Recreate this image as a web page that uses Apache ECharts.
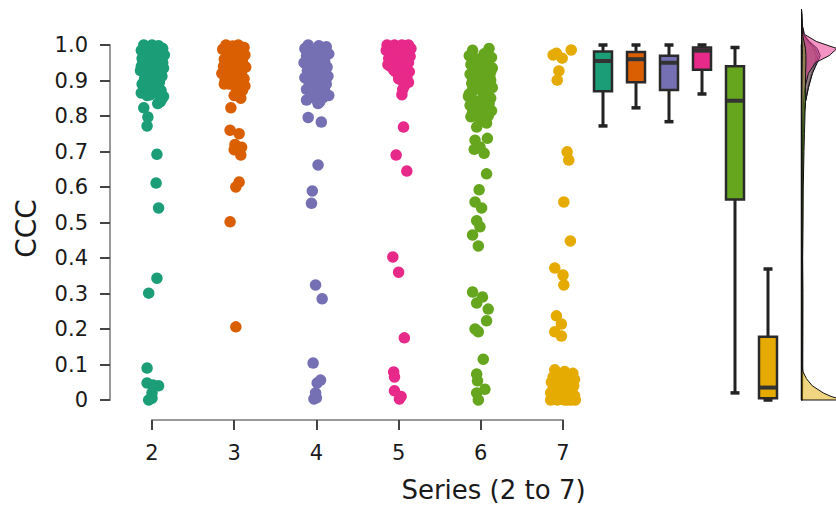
<!DOCTYPE html>
<html>
<head>
<meta charset="utf-8">
<script src="https://cdn.jsdelivr.net/npm/echarts@6/dist/echarts.min.js"></script>
<style>
html,body{margin:0;padding:0;background:#fff;}
#chart{width:836px;height:510px;}
</style>
</head>
<body>
<div id="chart"></div>
<script>
// ---------------- DATA ----------------
const categories = [2, 3, 4, 5, 6, 7];
const xTitle = 'Series (2 to 7)';
const yTitle = 'CCC';
const colors = ['#1b9e77', '#d95f02', '#7570b3', '#e7298a', '#66a61e', '#e6ab02'];

// points: [horizontal jitter around the category, CCC value]
const s2 = [[-0.1,1.0],[0.0,1.0],[0.08,0.998],[-0.05,0.995],[0.12,0.99],[-0.13,0.985],[0.04,0.985],[0.1,0.978],[-0.08,0.975],[0.15,0.972],[0.0,0.968],[-0.12,0.962],[0.07,0.96],[-0.03,0.955],[0.13,0.95],[-0.1,0.945],[0.03,0.94],[-0.06,0.935],[0.1,0.93],[-0.14,0.928],[0.05,0.922],[-0.02,0.918],[0.12,0.912],[-0.09,0.905],[0.02,0.9],[0.09,0.895],[-0.12,0.89],[-0.04,0.885],[0.06,0.88],[-0.1,0.875],[0.11,0.872],[0.0,0.868],[-0.13,0.865],[0.08,0.862],[-0.06,0.858],[0.14,0.855],[-0.02,0.86],[0.12,0.848],[0.1,0.84],[0.07,0.835],[-0.11,0.95],[0.06,0.975],[-0.07,0.99],[0.14,0.935],
  [-0.04,0.965],[0.05,0.95],[-0.08,0.92],[0.08,0.91],[-0.04,0.9],[0.04,0.89],[-0.13,0.94],[0.11,0.96],[-0.02,0.98],[0.04,0.87],[-0.09,0.96],[0.13,0.99],
  [-0.1,0.823],[-0.05,0.797],[-0.06,0.772],[0.06,0.692],[0.05,0.611],[0.08,0.541],[0.06,0.343],[-0.04,0.301],[-0.06,0.09],[-0.06,0.048],[0.01,0.042],[0.08,0.04],[0.0,0.02],[-0.04,0.0],[0.0,0.005]];
const s3 = [[-0.1,1.0],[0.05,1.0],[-0.02,0.997],[0.12,0.993],[-0.14,0.988],[0.08,0.985],[0.0,0.98],[-0.08,0.975],[0.13,0.972],[0.03,0.965],[-0.12,0.96],[0.1,0.955],[-0.05,0.95],[0.05,0.945],[-0.13,0.94],[0.14,0.938],[0.0,0.935],[-0.08,0.93],[0.09,0.925],[-0.15,0.92],[0.04,0.915],[-0.03,0.91],[0.12,0.905],[-0.11,0.9],[0.07,0.895],[-0.06,0.89],[0.13,0.885],[0.02,0.88],[-0.12,0.89],[0.1,0.872],[0.05,0.865],[0.0,0.858],[0.08,0.85],[-0.04,0.97],[0.1,0.99],
  [-0.06,0.96],[0.07,0.96],[-0.1,0.915],[0.08,0.94],[-0.03,0.925],[0.02,0.895],[-0.08,0.985],[0.04,0.99],
  [-0.04,0.823],[-0.05,0.76],[0.06,0.75],[0.01,0.72],[0.09,0.712],[0.0,0.705],[0.08,0.69],[0.06,0.614],[0.02,0.6],[-0.05,0.502],[0.02,0.206]];
const s4 = [[-0.1,1.0],[0.03,0.998],[0.12,0.995],[-0.14,0.99],[0.0,0.988],[0.08,0.982],[-0.06,0.978],[0.15,0.975],[-0.12,0.97],[0.04,0.965],[-0.02,0.96],[0.1,0.955],[-0.15,0.95],[0.06,0.948],[-0.07,0.942],[0.13,0.938],[0.0,0.932],[-0.11,0.928],[0.09,0.922],[-0.04,0.918],[0.14,0.912],[-0.14,0.908],[0.02,0.905],[0.07,0.898],[-0.09,0.895],[0.12,0.89],[-0.03,0.885],[0.05,0.88],[-0.12,0.875],[0.1,0.87],[0.0,0.865],[-0.07,0.86],[0.15,0.858],[0.08,0.852],[-0.12,0.845],[0.04,0.84],[-0.02,0.85],[0.02,0.835],[0.06,0.97],[-0.08,0.955],[0.11,0.935],
  [-0.04,0.945],[0.04,0.925],[-0.08,0.91],[0.06,0.91],[-0.06,0.88],[0.09,0.885],[-0.02,0.97],[0.09,0.96],[-0.1,0.985],[0.05,0.86],
  [-0.1,0.796],[0.06,0.783],[0.02,0.662],[-0.05,0.589],[-0.06,0.554],[-0.01,0.324],[0.07,0.285],[-0.04,0.104],[0.05,0.056],[0.01,0.048],[-0.01,0.02],[-0.03,0.003],[0.0,0.006]];
const s5 = [[-0.14,1.0],[-0.05,1.0],[0.04,1.0],[0.12,1.0],[-0.1,0.995],[0.0,0.995],[0.08,0.993],[0.15,0.99],[-0.15,0.985],[-0.03,0.985],[0.06,0.982],[0.11,0.978],[-0.08,0.975],[0.02,0.972],[0.14,0.968],[-0.12,0.962],[0.07,0.96],[-0.02,0.955],[0.12,0.95],[-0.13,0.945],[0.0,0.94],[0.08,0.935],[-0.06,0.93],[0.13,0.925],[0.03,0.92],[-0.1,0.94],[0.1,0.91],[0.04,0.9],[0.12,0.895],[0.07,0.885],[0.05,0.875],[0.04,0.86],[-0.04,0.99],[0.1,0.985],
  [-0.07,0.965],[0.04,0.958],[-0.04,0.925],[0.07,0.915],[0.0,0.905],[-0.02,0.975],
  [0.06,0.769],[-0.03,0.69],[0.1,0.645],[-0.07,0.403],[0.0,0.36],[0.07,0.175],[-0.06,0.079],[-0.05,0.065],[-0.05,0.026],[0.01,0.003],[0.03,0.01]];
const s6 = [[-0.1,0.985],[0.1,0.99],[0.04,0.975],[-0.14,0.97],[0.13,0.965],[-0.04,0.96],[0.07,0.952],[-0.12,0.945],[0.0,0.94],[0.14,0.935],[-0.08,0.93],[0.06,0.925],[-0.13,0.918],[0.11,0.912],[-0.02,0.905],[0.08,0.898],[-0.11,0.892],[0.02,0.886],[0.14,0.88],[-0.06,0.875],[0.09,0.868],[-0.14,0.862],[0.03,0.858],[0.12,0.85],[-0.09,0.845],[0.0,0.84],[0.1,0.835],[-0.13,0.83],[0.06,0.825],[-0.04,0.82],[0.13,0.815],[-0.1,0.81],[0.03,0.805],[0.09,0.8],[-0.12,0.798],[0.0,0.792],[-0.06,0.95],[0.12,0.9],[-0.15,0.855],[0.05,0.87],
  [-0.08,0.96],[0.02,0.96],[0.1,0.94],[-0.04,0.92],[0.04,0.91],[-0.1,0.905],[0.12,0.925],[-0.06,0.895],[0.05,0.88],[-0.1,0.875],[0.1,0.855],[-0.04,0.84],[0.05,0.845],[-0.1,0.825],[0.1,0.82],[-0.02,0.805],[0.07,0.81],[-0.07,0.8],
  [-0.05,0.769],[0.07,0.78],[-0.07,0.732],[0.08,0.737],[-0.08,0.706],[0.04,0.695],[-0.01,0.713],[0.07,0.637],[-0.02,0.592],[-0.07,0.558],[0.01,0.541],[-0.05,0.505],[-0.01,0.488],[-0.1,0.465],[-0.03,0.434],
  [-0.1,0.304],[0.02,0.29],[-0.05,0.273],[0.09,0.256],[0.07,0.223],[-0.07,0.2],[-0.03,0.192],[0.03,0.115],[-0.05,0.073],[-0.04,0.054],[0.05,0.03],[-0.05,0.02],[-0.03,0.0]];
const s7 = [[-0.08,0.977],[0.1,0.986],[-0.01,0.963],[-0.05,0.927],[-0.07,0.901],[-0.12,0.972],[0.05,0.699],[0.07,0.676],[0.01,0.558],[0.09,0.448],
  [-0.1,0.372],[0.0,0.352],[0.01,0.324],[-0.08,0.237],[-0.02,0.214],[-0.1,0.192],[-0.02,0.18],
  [-0.1,0.085],[0.02,0.08],[0.12,0.075],[-0.12,0.065],[0.06,0.068],[-0.03,0.06],[0.14,0.058],[-0.14,0.05],[0.0,0.052],[0.09,0.048],[-0.07,0.042],[0.13,0.04],[0.04,0.035],[-0.12,0.032],[-0.02,0.028],[0.1,0.025],[-0.15,0.02],[0.06,0.02],[-0.06,0.015],[0.14,0.012],[0.0,0.01],[-0.11,0.006],[0.08,0.005],[-0.03,0.003],[0.12,0.002],[-0.15,0.0],[-0.07,0.0],[0.02,0.0],[0.1,0.0],[0.15,0.0],[-0.09,0.022],[0.05,0.01],[-0.13,0.01],[0.11,0.032],
  [-0.05,0.07],[0.07,0.06],[-0.09,0.055],[0.03,0.045],[-0.04,0.035],[0.08,0.03],[-0.1,0.04],[0.02,0.015],[-0.02,0.005],[0.06,0.0]];
const seriesPoints = [s2, s3, s4, s5, s6, s7];

// box statistics: [min, q1, median, q3, max]
const boxStats = [
  [0.772, 0.870, 0.955, 0.982, 1.000],
  [0.823, 0.895, 0.960, 0.980, 1.000],
  [0.784, 0.873, 0.950, 0.970, 1.000],
  [0.862, 0.930, 0.984, 0.993, 1.000],
  [0.020, 0.565, 0.843, 0.940, 0.993],
  [0.000, 0.005, 0.035, 0.178, 0.369]
];

// density outlines: CCC levels and width
const densY = [1.10,1.06,1.03,1.01,0.99,0.97,0.95,0.92,0.88,0.84,0.80,0.75,0.70,0.60,0.50,0.40,0.30,0.20,0.10,0.08,0.06,0.04,0.02,0.01,0.0];
const dens2 = [0,0.5,2,6,12,15,14,10,6,4,2.5,1.5,1,0.8,0.6,0.5,0.6,0.4,0.5,0.6,0.7,0.8,0.7,0.6,0.5];
const dens3 = [0,0.5,2,7,14,17,15,11,7,4,2.5,2,1.8,1,0.6,0.3,0.3,0.4,0.2,0.2,0.2,0.2,0.2,0.1,0.1];
const dens4 = [0,0.5,2,8,16,19,16,11,7,4,2.5,1.5,1.2,1,0.6,0.5,0.6,0.4,0.5,0.6,0.7,0.8,0.7,0.6,0.6];
const dens5 = [0,0.5,3,15,36,28,14,7,3.5,2,1.5,1.2,1,0.6,0.5,0.6,0.4,0.3,0.5,0.6,0.7,0.7,0.6,0.5,0.5];
const dens6 = [0,0.3,1,2.5,4,4.5,4.5,4.2,4,3.8,3.5,3,2.5,1.8,1.6,1.2,1.5,1.4,1.3,1.3,1.2,1.2,1.1,1,1];
const dens7 = [0,0.1,0.3,0.6,0.8,0.8,0.6,0.4,0.2,0.1,0.1,0.2,0.4,0.4,0.3,0.4,0.6,0.8,0.3,1.5,5,11,22,30,42];
const densities = [dens2, dens3, dens4, dens5, dens6, dens7];

// ---------------- CHART ----------------
const FONT = 'DejaVu Sans';
const chart = echarts.init(document.getElementById('chart'), null, {renderer: 'svg'});

function rgba(hex, a) {
  const n = parseInt(hex.slice(1), 16);
  return 'rgba(' + (n >> 16 & 255) + ',' + (n >> 8 & 255) + ',' + (n & 255) + ',' + a + ')';
}

const series = [];
seriesPoints.forEach((pts, i) => {
  series.push({
    type: 'scatter', xAxisIndex: 0, yAxisIndex: 0, clip: false,
    name: String(categories[i]),
    symbolSize: 11.5,
    itemStyle: {color: colors[i], opacity: 1},
    data: pts.map(p => [categories[i] + p[0], p[1]]),
    silent: true
  });
});

series.push({
  type: 'custom', xAxisIndex: 1, yAxisIndex: 1,
  data: boxStats.map((b, i) => [i].concat(b)),
  encode: {x: 0, y: [1, 2, 3, 4, 5]},
  renderItem: function (params, api) {
    const i = api.value(0);
    const cx = api.coord([i, 0])[0];
    const yMin = api.coord([i, api.value(1)])[1];
    const yQ1 = api.coord([i, api.value(2)])[1];
    const yMed = api.coord([i, api.value(3)])[1];
    const yQ3 = api.coord([i, api.value(4)])[1];
    const yMax = api.coord([i, api.value(5)])[1];
    const hw = 9, cw = 4.5;
    const ls = {stroke: '#222', lineWidth: 3};
    return {
      type: 'group',
      children: [
        {type: 'line', shape: {x1: cx, y1: yMax, x2: cx, y2: yQ3}, style: ls},
        {type: 'line', shape: {x1: cx, y1: yQ1, x2: cx, y2: yMin}, style: ls},
        {type: 'line', shape: {x1: cx - cw, y1: yMax, x2: cx + cw, y2: yMax}, style: {stroke: '#222', lineWidth: 3.5}},
        {type: 'line', shape: {x1: cx - cw, y1: yMin, x2: cx + cw, y2: yMin}, style: {stroke: '#222', lineWidth: 3.5}},
        {type: 'rect', shape: {x: cx - hw, y: yQ3, width: 2 * hw, height: yQ1 - yQ3},
          style: {fill: colors[params.dataIndex], stroke: '#2a2a2a', lineWidth: 2.5}},
        {type: 'line', shape: {x1: cx - hw + 1, y1: yMed, x2: cx + hw - 1, y2: yMed}, style: {stroke: '#333', lineWidth: 4}}
      ]
    };
  },
  silent: true
});

densities.forEach((d, i) => {
  series.push({
    type: 'custom', xAxisIndex: 2, yAxisIndex: 2,
    data: [[0, 0]],
    renderItem: function (params, api) {
      const pts = [api.coord([0, 0])];
      for (let k = d.length - 1; k >= 0; k--) pts.push(api.coord([d[k], densY[k]]));
      pts.push(api.coord([0, densY[0]]));
      return {
        type: 'polygon',
        shape: {points: pts},
        style: {fill: rgba(colors[i], 0.5), stroke: '#111', lineWidth: 1}
      };
    },
    silent: true
  });
});

series.push({
  type: 'line', xAxisIndex: 2, yAxisIndex: 2, symbol: 'none',
  data: [[0, 0], [0, densY[0]]],
  lineStyle: {color: '#111', width: 1.5}, silent: true
});

const axisCommon = {
  axisLine: {show: true, onZero: false, lineStyle: {color: '#9a9a9a', width: 2}},
  axisTick: {show: true, length: 10, lineStyle: {color: '#444', width: 2}},
  splitLine: {show: false}
};

chart.setOption({
  animation: false,
  backgroundColor: '#fff',
  textStyle: {fontFamily: FONT},
  grid: [
    {left: 152, top: 45, width: 411, height: 355},
    {left: 586.5, top: 45, width: 198, height: 355},
    {left: 801.5, top: 45, width: 34.5, height: 355}
  ],
  xAxis: [
    Object.assign({
      gridIndex: 0, type: 'value', min: 2, max: 7, interval: 1, offset: 20,
      axisLabel: {fontSize: 21, color: '#1a1a1a', margin: 22, fontFamily: FONT},
      name: xTitle, nameLocation: 'middle', nameGap: 57,
      nameTextStyle: {fontSize: 26, color: '#1a1a1a', fontFamily: FONT, padding: [0, 0, 0, 272]}
    }, axisCommon),
    {gridIndex: 1, type: 'value', min: -0.5, max: 5.5, show: false},
    {gridIndex: 2, type: 'value', min: 0, max: 35, show: false}
  ],
  yAxis: [
    Object.assign({
      gridIndex: 0, type: 'value', min: 0, max: 1, interval: 0.1, offset: 42,
      axisLabel: {fontSize: 21, color: '#1a1a1a', margin: 22, fontFamily: FONT,
        formatter: v => (v === 0 ? '0' : v.toFixed(1))},
      name: yTitle, nameLocation: 'middle', nameGap: 70,
      nameTextStyle: {fontSize: 28, color: '#1a1a1a', fontFamily: FONT, padding: [0, 12, 0, 0]}
    }, axisCommon),
    {gridIndex: 1, type: 'value', min: 0, max: 1, show: false},
    {gridIndex: 2, type: 'value', min: 0, max: 1, show: false}
  ],
  series: series
});
</script>
</body>
</html>
